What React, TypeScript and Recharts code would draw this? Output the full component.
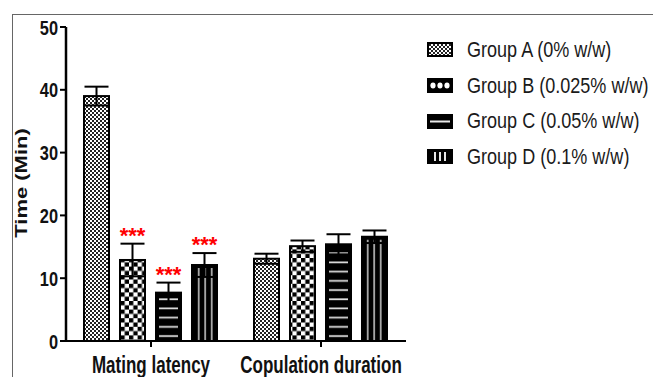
import React from "react";
import { BarChart, Bar, XAxis, YAxis, ErrorBar, Legend } from "recharts";

const categories = ["Mating latency", "Copulation duration"];
const groupA = [39.0, 13.1];
const groupAErr = [1.5, 0.8];
const groupB = [12.9, 15.1];
const groupBErr = [2.6, 0.9];
const groupC = [7.7, 15.4];
const groupCErr = [1.6, 1.6];
const groupD = [12.1, 16.6];
const groupDErr = [1.9, 1.0];
const starsA = ["", ""];
const starsB = ["***", ""];
const starsC = ["***", ""];
const starsD = ["***", ""];
const yTicks = [0, 10, 20, 30, 40, 50];
const seriesNames = [
  "Group A (0% w/w)",
  "Group B (0.025% w/w)",
  "Group C (0.05% w/w)",
  "Group D (0.1% w/w)",
];

const data = categories.map((c, i) => ({
  category: c,
  a: groupA[i], aErr: groupAErr[i], aStar: starsA[i],
  b: groupB[i], bErr: groupBErr[i], bStar: starsB[i],
  c: groupC[i], cErr: groupCErr[i], cStar: starsC[i],
  d: groupD[i], dErr: groupDErr[i], dStar: starsD[i],
}));

const FONT = '"Liberation Sans", Arial, sans-serif';

function makeShape(key: string, kind: string) {
  return (props: any) => {
    const { x, y, width, height, payload } = props;
    if (width == null || height == null) return <g />;
    const val = payload[key];
    const err = payload[key + "Err"];
    const star = payload[key + "Star"];
    const ppu = val ? height / val : 0;
    const errTop = y - err * ppu;
    let body;
    if (kind === "A" || kind === "B") {
      body = (
        <rect x={x} y={y} width={width} height={height}
          fill={kind === "A" ? "url(#patA)" : "url(#patB)"} stroke="#000" strokeWidth={2} />
      );
    } else {
      body = (
        <g>
          <rect x={x} y={y} width={width} height={height} fill="#000" stroke="#000" strokeWidth={2} />
          <rect x={x + 3} y={y + 3} width={Math.max(0, width - 6)} height={Math.max(0, height - 3)}
            fill={kind === "C" ? "url(#patC)" : "url(#patD)"} />
        </g>
      );
    }
    return (
      <g>
        {body}
        {star ? (
          <text x={x + width / 2} y={errTop - 1} textAnchor="middle" fill="#ff0000"
            fontFamily={FONT} fontWeight="bold" fontSize={22}>{star}</text>
        ) : null}
      </g>
    );
  };
}

const YTick = (props: any) => {
  const { x, y, payload } = props;
  return (
    <g transform={`translate(${x},${y})`}>
      <text transform="scale(0.78,1)" textAnchor="end" dy="0.36em" fill="#111"
        fontFamily={FONT} fontWeight="bold" fontSize={21}>{payload.value}</text>
    </g>
  );
};

const XTick = (props: any) => {
  const { x, y, payload } = props;
  return (
    <g transform={`translate(${x},${y + 8})`}>
      <text transform="scale(0.74,1)" textAnchor="middle" dy="0.71em" fill="#111"
        fontFamily={FONT} fontWeight="bold" fontSize={23}>{payload.value}</text>
    </g>
  );
};

const YLabel = (props: any) => {
  const vb = props.viewBox || { x: 21, y: 27, width: 45, height: 314 };
  const cx = vb.x;
  const cy = vb.y + vb.height / 2 - 1;
  return (
    <g transform={`translate(${cx},${cy}) scale(0.78,1) rotate(-90)`}>
      <text textAnchor="middle" dy="0.36em" fill="#111" fontFamily={FONT}
        fontWeight="bold" fontSize={22}>Time (Min)</text>
    </g>
  );
};

const Icon = ({ kind }: { kind: string }) => {
  if (kind === "A") {
    return (
      <svg width={26} height={15} style={{ display: "block" }}>
        <rect x={1} y={1} width={24} height={13} fill="url(#patA)" stroke="#000" strokeWidth={2} />
      </svg>
    );
  }
  if (kind === "B") {
    return (
      <svg width={26} height={15} style={{ display: "block" }}>
        <rect x={0} y={0} width={26} height={15} fill="#000" />
        {[4, 11, 18].map((cx) => (
          <ellipse key={cx} cx={cx + 2} cy={7.5} rx={2.6} ry={3} fill="#fff" />
        ))}
      </svg>
    );
  }
  if (kind === "C") {
    return (
      <svg width={26} height={15} style={{ display: "block" }}>
        <rect x={0} y={0} width={26} height={15} fill="#000" />
        <rect x={3} y={6.5} width={20} height={2} fill="#e8e8e8" />
      </svg>
    );
  }
  return (
    <svg width={26} height={15} style={{ display: "block" }}>
      <rect x={0} y={0} width={26} height={15} fill="#000" />
      {[7, 12, 17].map((lx) => (
        <rect key={lx} x={lx} y={3} width={2} height={9} fill="#e8e8e8" />
      ))}
    </svg>
  );
};

const kinds = ["A", "B", "C", "D"];

const LegendContent = () => (
  <div style={{ fontFamily: FONT }}>
    {seriesNames.map((n, i) => (
      <div key={n} style={{ height: 35.7, display: "flex", alignItems: "center" }}>
        <div style={{ width: 26, height: 15, marginLeft: 2 }}>
          <Icon kind={kinds[i]} />
        </div>
        <span style={{ marginLeft: 14, fontSize: 22, color: "#1a1a1a", display: "inline-block",
          transform: "scaleX(0.82)", transformOrigin: "left center", whiteSpace: "nowrap" }}>{n}</span>
      </div>
    ))}
  </div>
);

export default function App() {
  return (
    <div style={{ position: "absolute", left: 0, top: 0, width: 653, height: 377, overflow: "hidden",
      background: "#fff", fontFamily: FONT }}>
      <svg width={0} height={0} style={{ position: "absolute" }}>
        <defs>
          <pattern id="patA" width={4} height={4} patternUnits="userSpaceOnUse">
            <rect width={4} height={4} fill="#fff" />
            <rect width={2} height={2} fill="#222" />
            <rect x={2} y={2} width={2} height={2} fill="#222" />
          </pattern>
          <pattern id="patB" width={8.6} height={8.6} patternUnits="userSpaceOnUse">
            <rect width={8.6} height={8.6} fill="#fff" />
            <rect width={4.3} height={4.3} fill="#000" />
            <rect x={4.3} y={4.3} width={4.3} height={4.3} fill="#000" />
          </pattern>
          <pattern id="patC" width={4} height={9.2} patternUnits="userSpaceOnUse">
            <rect y={4} width={4} height={1.7} fill="#e6e6e6" />
          </pattern>
          <pattern id="patD" width={6.5} height={4} patternUnits="userSpaceOnUse">
            <rect x={3} width={1.4} height={4} fill="#dcdcdc" />
          </pattern>
        </defs>
      </svg>
      <div style={{ position: "absolute", left: 12, top: 14, width: 641, height: 363, boxSizing: "border-box",
        borderTop: "1.5px solid #666", borderLeft: "1.5px solid #666" }} />
      <div style={{ position: "absolute", left: 0, top: 0 }}>
        <BarChart width={653} height={377} data={data}
          margin={{ top: 27, right: 247, bottom: 0, left: 21 }}
          barCategoryGap={18} barGap={11}>
          <XAxis dataKey="category" height={36} tick={<XTick />} tickSize={6}
            axisLine={{ stroke: "#000", strokeWidth: 2 }} tickLine={{ stroke: "#000", strokeWidth: 2 }} />
          <YAxis width={45} domain={[0, 50]} ticks={yTicks} tick={<YTick />} tickSize={6}
            axisLine={{ stroke: "#000", strokeWidth: 2.5 }} tickLine={{ stroke: "#000", strokeWidth: 2 }}
            label={{ value: "Time (Min)", content: (p: any) => <YLabel {...p} /> }} />
          <Legend layout="vertical" align="center" verticalAlign="middle" content={<LegendContent />}
            wrapperStyle={{ left: 425, top: 32, width: 228 }} />
          <Bar dataKey="a" name={seriesNames[0]} shape={makeShape("a", "A")} isAnimationActive={false}>
            <ErrorBar dataKey="aErr" width={12} stroke="#000" strokeWidth={2} />
          </Bar>
          <Bar dataKey="b" name={seriesNames[1]} shape={makeShape("b", "B")} isAnimationActive={false}>
            <ErrorBar dataKey="bErr" width={12} stroke="#000" strokeWidth={2} />
          </Bar>
          <Bar dataKey="c" name={seriesNames[2]} shape={makeShape("c", "C")} isAnimationActive={false}>
            <ErrorBar dataKey="cErr" width={12} stroke="#000" strokeWidth={2} />
          </Bar>
          <Bar dataKey="d" name={seriesNames[3]} shape={makeShape("d", "D")} isAnimationActive={false}>
            <ErrorBar dataKey="dErr" width={12} stroke="#000" strokeWidth={2} />
          </Bar>
        </BarChart>
      </div>
    </div>
  );
}
